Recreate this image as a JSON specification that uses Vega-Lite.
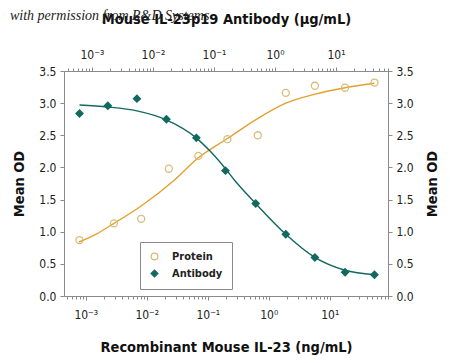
{
  "$schema": "https://vega.github.io/schema/vega-lite/v6.json",
  "width": 324,
  "height": 225,
  "autosize": {"type": "none"},
  "padding": {"left": 64, "top": 71, "right": 62, "bottom": 67},
  "background": "white",
  "title": {
    "text": "with permission from R&D Systems",
    "anchor": "start",
    "frame": "group",
    "font": "Liberation Serif",
    "fontStyle": "italic",
    "fontWeight": "normal",
    "fontSize": 14,
    "color": "#222222",
    "dx": -54,
    "dy": 16
  },
  "config": {
    "font": "DejaVu Sans Condensed, DejaVu Sans, sans-serif",
    "view": {"stroke": "#8a8a8a", "strokeWidth": 1},
    "axis": {
      "grid": false,
      "domainColor": "#8a8a8a",
      "tickColor": "#8a8a8a",
      "labelColor": "#222222",
      "titleColor": "#111111",
      "labelFont": "DejaVu Sans Condensed, DejaVu Sans, sans-serif",
      "titleFont": "DejaVu Sans Condensed, DejaVu Sans, sans-serif",
      "labelFontSize": 12,
      "titleFontSize": 14.5,
      "titleFontWeight": "bold"
    },
    "legend": {
      "labelFont": "DejaVu Sans Condensed, DejaVu Sans, sans-serif",
      "labelFontSize": 11,
      "labelFontWeight": "bold",
      "labelColor": "#222222"
    }
  },
  "datasets": {
    "pts": [
      {"series": "Protein", "conc": 0.00079, "od": 0.87},
      {"series": "Protein", "conc": 0.0029, "od": 1.13},
      {"series": "Protein", "conc": 0.0081, "od": 1.2},
      {"series": "Protein", "conc": 0.023, "od": 1.98},
      {"series": "Protein", "conc": 0.07, "od": 2.18},
      {"series": "Protein", "conc": 0.21, "od": 2.44},
      {"series": "Protein", "conc": 0.66, "od": 2.5},
      {"series": "Protein", "conc": 1.9, "od": 3.16},
      {"series": "Protein", "conc": 5.7, "od": 3.27},
      {"series": "Protein", "conc": 17.8, "od": 3.24},
      {"series": "Protein", "conc": 54, "od": 3.32},
      {"series": "Antibody", "conc": 0.00079, "od": 2.84},
      {"series": "Antibody", "conc": 0.0023, "od": 2.96},
      {"series": "Antibody", "conc": 0.0069, "od": 3.07},
      {"series": "Antibody", "conc": 0.021, "od": 2.75},
      {"series": "Antibody", "conc": 0.065, "od": 2.46},
      {"series": "Antibody", "conc": 0.195, "od": 1.95},
      {"series": "Antibody", "conc": 0.61, "od": 1.44},
      {"series": "Antibody", "conc": 1.9, "od": 0.96},
      {"series": "Antibody", "conc": 5.7, "od": 0.6},
      {"series": "Antibody", "conc": 17.8, "od": 0.37},
      {"series": "Antibody", "conc": 54, "od": 0.33}
    ],
    "fit": [
      {"series": "Protein", "conc": 0.00077, "od": 0.84},
      {"series": "Protein", "conc": 0.00146, "od": 0.96},
      {"series": "Protein", "conc": 0.0029, "od": 1.13},
      {"series": "Protein", "conc": 0.0081, "od": 1.4},
      {"series": "Protein", "conc": 0.0282, "od": 1.8},
      {"series": "Protein", "conc": 0.07, "od": 2.15},
      {"series": "Protein", "conc": 0.21, "od": 2.45},
      {"series": "Protein", "conc": 0.656, "od": 2.76},
      {"series": "Protein", "conc": 1.9, "od": 3.0},
      {"series": "Protein", "conc": 5.7, "od": 3.14},
      {"series": "Protein", "conc": 17.8, "od": 3.24},
      {"series": "Protein", "conc": 53.7, "od": 3.31},
      {"series": "Antibody", "conc": 0.00079, "od": 2.97},
      {"series": "Antibody", "conc": 0.0023, "od": 2.94},
      {"series": "Antibody", "conc": 0.0069, "od": 2.88},
      {"series": "Antibody", "conc": 0.0209, "od": 2.74},
      {"series": "Antibody", "conc": 0.0646, "od": 2.46},
      {"series": "Antibody", "conc": 0.11, "od": 2.25},
      {"series": "Antibody", "conc": 0.195, "od": 1.98},
      {"series": "Antibody", "conc": 0.275, "od": 1.8},
      {"series": "Antibody", "conc": 0.608, "od": 1.44},
      {"series": "Antibody", "conc": 1.9, "od": 0.96},
      {"series": "Antibody", "conc": 5.7, "od": 0.6},
      {"series": "Antibody", "conc": 17.8, "od": 0.4},
      {"series": "Antibody", "conc": 53.7, "od": 0.33}
    ]
  },
  "layer": [
    {
      "encoding": {
        "x": {
          "field": "conc",
          "type": "quantitative",
          "scale": {"type": "log", "domain": [0.00044, 90], "nice": false},
          "axis": {
            "orient": "bottom",
            "title": "Recombinant Mouse IL-23 (ng/mL)",
            "values": [0.0005, 0.0006, 0.0007, 0.0008, 0.0009, 0.001, 0.002, 0.003, 0.004, 0.005, 0.006, 0.007, 0.008, 0.009, 0.01, 0.02, 0.03, 0.04, 0.05, 0.06, 0.07, 0.08, 0.09, 0.1, 0.2, 0.3, 0.4, 0.5, 0.6, 0.7, 0.8, 0.9, 1, 2, 3, 4, 5, 6, 7, 8, 9, 10, 20, 30, 40, 50, 60, 70, 80, 90],
            "labelExpr": "datum.value === 0.001 ? '10⁻³' : datum.value === 0.01 ? '10⁻²' : datum.value === 0.1 ? '10⁻¹' : datum.value === 1 ? '10⁰' : datum.value === 10 ? '10¹' : ''",
            "labelOverlap": false,
            "labelFlush": false,
            "tickSize": {"condition": {"test": "datum.value === 0.001 || datum.value === 0.01 || datum.value === 0.1 || datum.value === 1 || datum.value === 10", "value": 4}, "value": 3},
            "labelPadding": 9,
            "titlePadding": 20
          }
        },
        "y": {
          "field": "od",
          "type": "quantitative",
          "scale": {"domain": [0, 3.5], "nice": false, "zero": false},
          "axis": {
            "orient": "left",
            "title": "Mean OD",
            "values": [0, 0.5, 1, 1.5, 2, 2.5, 3, 3.5],
            "format": ".1f",
            "labelOverlap": false,
            "tickSize": 4,
            "labelPadding": 4,
            "titlePadding": 12
          }
        }
      },
      "layer": [
        {
          "data": {"name": "fit"},
          "transform": [{"filter": "datum.series === 'Protein'"}],
          "mark": {"type": "line", "interpolate": "monotone", "strokeWidth": 1.4, "color": "#E3A02E"}
        },
        {
          "data": {"name": "fit"},
          "transform": [{"filter": "datum.series === 'Antibody'"}],
          "mark": {"type": "line", "interpolate": "monotone", "strokeWidth": 1.4, "color": "#12695F"}
        },
        {
          "data": {"name": "pts"},
          "mark": {"type": "point", "filled": false, "size": 50, "strokeWidth": 1.3, "opacity": 1},
          "encoding": {
            "color": {
              "field": "series",
              "type": "nominal",
              "scale": {"domain": ["Protein", "Antibody"], "range": ["#D9BC7A", "#12695F"]},
              "legend": {
                "title": null,
                "orient": "none",
                "legendX": 76,
                "legendY": 171,
                "padding": 9,
                "rowPadding": 4,
                "strokeColor": "#8a8a8a",
                "fillColor": "white",
                "symbolSize": 45,
                "symbolStrokeWidth": 1.3,
                "labelOffset": 12
              }
            },
            "fill": {
              "field": "series",
              "type": "nominal",
              "scale": {"domain": ["Protein", "Antibody"], "range": ["transparent", "#12695F"]}
            },
            "shape": {
              "field": "series",
              "type": "nominal",
              "scale": {"domain": ["Protein", "Antibody"], "range": ["circle", "diamond"]}
            }
          }
        }
      ]
    },
    {
      "data": {"values": [{"ug": 0.01, "od": 1}]},
      "mark": {"type": "point", "opacity": 0},
      "encoding": {
        "x": {
          "field": "ug",
          "type": "quantitative",
          "scale": {"type": "log", "domain": [0.00035, 71], "nice": false},
          "axis": {
            "orient": "top",
            "title": "Mouse IL-23p19 Antibody (µg/mL)",
            "values": [0.0004, 0.0005, 0.0006, 0.0007, 0.0008, 0.0009, 0.001, 0.002, 0.003, 0.004, 0.005, 0.006, 0.007, 0.008, 0.009, 0.01, 0.02, 0.03, 0.04, 0.05, 0.06, 0.07, 0.08, 0.09, 0.1, 0.2, 0.3, 0.4, 0.5, 0.6, 0.7, 0.8, 0.9, 1, 2, 3, 4, 5, 6, 7, 8, 9, 10, 20, 30, 40, 50, 60, 70],
            "labelExpr": "datum.value === 0.001 ? '10⁻³' : datum.value === 0.01 ? '10⁻²' : datum.value === 0.1 ? '10⁻¹' : datum.value === 1 ? '10⁰' : datum.value === 10 ? '10¹' : ''",
            "labelOverlap": false,
            "labelFlush": false,
            "tickSize": {"condition": {"test": "datum.value === 0.001 || datum.value === 0.01 || datum.value === 0.1 || datum.value === 1 || datum.value === 10", "value": 4}, "value": 3},
            "labelPadding": 6,
            "titlePadding": 22
          }
        },
        "y": {
          "field": "od",
          "type": "quantitative",
          "scale": {"domain": [0, 3.5], "nice": false, "zero": false},
          "axis": {
            "orient": "right",
            "title": "Mean OD",
            "titleAngle": 270,
            "titleBaseline": "top",
            "values": [0, 0.5, 1, 1.5, 2, 2.5, 3, 3.5],
            "format": ".1f",
            "labelOverlap": false,
            "tickSize": 4,
            "labelPadding": 4,
            "titlePadding": 12
          }
        }
      }
    }
  ],
  "resolve": {"scale": {"x": "independent", "y": "independent"}}
}
